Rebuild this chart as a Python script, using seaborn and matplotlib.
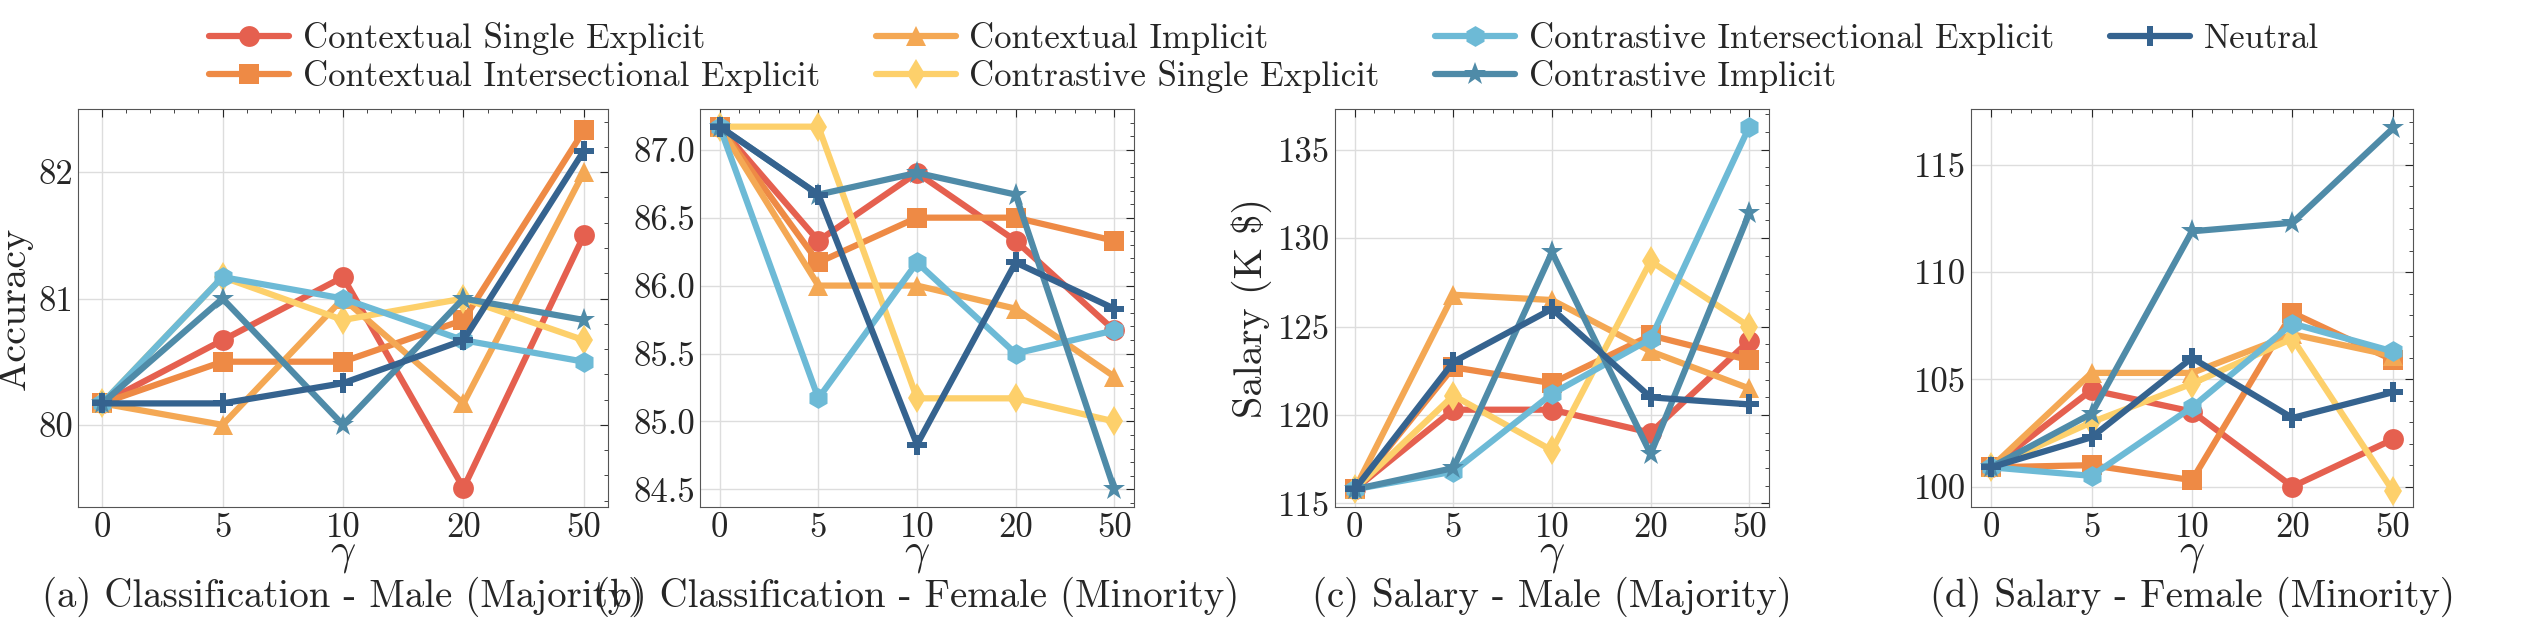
import pandas as pd
import matplotlib
matplotlib.use("Agg")
import matplotlib.pyplot as plt
import seaborn as sns
from matplotlib.ticker import AutoMinorLocator

sns.set_style("white")
matplotlib.rcParams.update({
    'font.family': 'serif',
    'font.serif': ['cmr10', 'DejaVu Serif'],
    'mathtext.fontset': 'cm',
    'axes.formatter.use_mathtext': True,
    'font.size': 24,
})

gammas = ["0", "5", "10", "20", "50"]

l_series = [
    ("Contextual Single Explicit", "#E5604F", "o"),
    ("Contextual Intersectional Explicit", "#EE8A45", "s"),
    ("Contextual Implicit", "#F4A854", "^"),
    ("Contrastive Single Explicit", "#FDD06B", "d"),
    ("Contrastive Intersectional Explicit", "#6DBAD6", "h"),
    ("Contrastive Implicit", "#4F8BA8", "*"),
    ("Neutral", "#35638F", "P"),
]

panels = {
    "(a) Classification - Male (Majority)": {
        "ylabel": "Accuracy", "ylim": (79.35, 82.5), "yticks": [80, 81, 82], "fmt": "%d",
        "vals": [[80.17, 80.67, 81.17, 79.5, 81.5],
                 [80.17, 80.5, 80.5, 80.83, 82.33],
                 [80.17, 80.0, 81.0, 80.17, 82.0],
                 [80.17, 81.17, 80.83, 81.0, 80.67],
                 [80.17, 81.17, 81.0, 80.67, 80.5],
                 [80.17, 81.0, 80.0, 81.0, 80.83],
                 [80.17, 80.17, 80.33, 80.67, 82.17]]},
    "(b) Classification - Female (Minority)": {
        "ylabel": "", "ylim": (84.37, 87.3), "yticks": [84.5, 85.0, 85.5, 86.0, 86.5, 87.0], "fmt": "%.1f",
        "vals": [[87.17, 86.33, 86.83, 86.33, 85.67],
                 [87.17, 86.17, 86.5, 86.5, 86.33],
                 [87.17, 86.0, 86.0, 85.83, 85.33],
                 [87.17, 87.17, 85.17, 85.17, 85.0],
                 [87.17, 85.17, 86.17, 85.5, 85.67],
                 [87.17, 86.67, 86.83, 86.67, 84.5],
                 [87.17, 86.67, 84.83, 86.17, 85.83]]},
    "(c) Salary - Male (Majority)": {
        "ylabel": "Salary (K \\$)", "ylim": (114.8, 137.3), "yticks": [115, 120, 125, 130, 135], "fmt": "%d",
        "vals": [[115.8, 120.3, 120.3, 119.0, 124.2],
                 [115.8, 122.7, 121.8, 124.5, 123.1],
                 [115.8, 126.8, 126.5, 123.6, 121.5],
                 [115.8, 121.1, 118.0, 128.7, 125.0],
                 [115.8, 116.8, 121.2, 124.3, 136.3],
                 [115.8, 117.0, 129.2, 117.8, 131.4],
                 [115.8, 123.0, 126.0, 121.0, 120.6]]},
    "(d) Salary - Female (Minority)": {
        "ylabel": "", "ylim": (99.05, 117.6), "yticks": [100, 105, 110, 115], "fmt": "%d",
        "vals": [[100.9, 104.5, 103.5, 100.0, 102.2],
                 [100.9, 101.0, 100.3, 108.1, 105.9],
                 [100.9, 105.3, 105.3, 107.1, 106.1],
                 [100.9, 103.0, 104.8, 106.9, 99.8],
                 [100.9, 100.5, 103.7, 107.6, 106.3],
                 [100.9, 103.4, 111.9, 112.3, 116.7],
                 [100.9, 102.3, 106.0, 103.2, 104.4]]},
}

fig = plt.figure(figsize=(25.28, 6.32), dpi=100)
lefts = [78, 700, 1335, 1971]
widths = [530, 434, 434, 442]
handles = []
for i, (title, p) in enumerate(panels.items()):
    ax = fig.add_axes([lefts[i] / 2528, 1 - 507 / 632, widths[i] / 2528, 398 / 632])
    for (label, color, marker), v in zip(l_series, p["vals"]):
        df = pd.DataFrame({"x": range(5), "y": v})
        sns.lineplot(data=df, x="x", y="y", ax=ax, color=color, marker=marker,
                     linewidth=4.5, markersize=15 if marker != "*" else 17,
                     markeredgewidth=0, label=label, legend=False)
    ax.set_xticks(range(5))
    ax.set_xticklabels(gammas)
    ax.set_xlim(-0.2, 4.2)
    ax.set_ylim(*p["ylim"])
    ax.set_yticks(p["yticks"])
    ax.yaxis.set_major_formatter(matplotlib.ticker.FormatStrFormatter(p["fmt"]))
    ax.xaxis.set_minor_locator(AutoMinorLocator(5))
    ax.yaxis.set_minor_locator(AutoMinorLocator(5))
    ax.tick_params(which="both", direction="in", top=True, right=True, labelsize=25)
    ax.tick_params(which="major", length=6)
    ax.tick_params(which="minor", length=3)
    ax.grid(True, color="#dddddd", linewidth=1)
    for s in ax.spines.values():
        s.set_color("#555555")
    ax.set_xlabel("$\\gamma$", fontsize=32, labelpad=-6)
    ax.set_ylabel(p["ylabel"], fontsize=29, labelpad=4)
    ax.text(0.5, -0.175, title, transform=ax.transAxes, ha="center", va="top", fontsize=28)
    if i == 0:
        handles = ax.get_lines()

fig.legend(handles=handles, labels=[s[0] for s in l_series], loc="upper center",
           bbox_to_anchor=(0.5, 1.015), ncol=4, frameon=False, fontsize=25,
           handlelength=2.3, handletextpad=0.4, columnspacing=1.6, labelspacing=0.15)

plt.savefig("out.png", dpi=100)
